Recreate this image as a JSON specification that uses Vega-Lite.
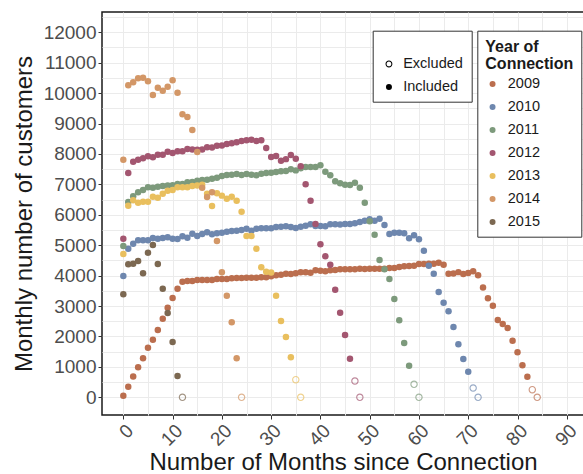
{
  "$schema": "https://vega.github.io/schema/vega-lite/v6.json",
  "width": 491,
  "height": 403,
  "autosize": {"type": "none"},
  "padding": {"left": 102, "top": 12, "right": -10, "bottom": 59},
  "background": "white",
  "config": {
    "font": "Liberation Sans",
    "view": {"stroke": "#1a1a1a", "strokeWidth": 1.5},
    "axis": {"grid": true, "gridColor": "#ebebeb", "gridWidth": 1, "domain": false, "tickColor": "#333333", "tickSize": 4, "labelColor": "#4d4d4d", "labelFontSize": 19, "titleFontSize": 24, "titleFontWeight": "normal", "titleColor": "#1a1a1a"}
  },
  "data": {"values": [
    {"yr":"2009","m":0,"n":50,"s":"Included"},{"yr":"2009","m":1,"n":350,"s":"Included"},{"yr":"2009","m":2,"n":680,"s":"Included"},{"yr":"2009","m":3,"n":985,"s":"Included"},{"yr":"2009","m":4,"n":1280,"s":"Included"},{"yr":"2009","m":5,"n":1630,"s":"Included"},{"yr":"2009","m":6,"n":1895,"s":"Included"},{"yr":"2009","m":7,"n":2210,"s":"Included"},{"yr":"2009","m":8,"n":2585,"s":"Included"},{"yr":"2009","m":9,"n":2945,"s":"Included"},{"yr":"2009","m":10,"n":3265,"s":"Included"},{"yr":"2009","m":11,"n":3570,"s":"Included"},{"yr":"2009","m":12,"n":3800,"s":"Included"},{"yr":"2009","m":13,"n":3823,"s":"Included"},{"yr":"2009","m":14,"n":3823,"s":"Included"},{"yr":"2009","m":15,"n":3856,"s":"Included"},{"yr":"2009","m":16,"n":3856,"s":"Included"},{"yr":"2009","m":17,"n":3856,"s":"Included"},{"yr":"2009","m":18,"n":3856,"s":"Included"},{"yr":"2009","m":19,"n":3889,"s":"Included"},{"yr":"2009","m":20,"n":3889,"s":"Included"},{"yr":"2009","m":21,"n":3889,"s":"Included"},{"yr":"2009","m":22,"n":3911,"s":"Included"},{"yr":"2009","m":23,"n":3922,"s":"Included"},{"yr":"2009","m":24,"n":3922,"s":"Included"},{"yr":"2009","m":25,"n":3933,"s":"Included"},{"yr":"2009","m":26,"n":3933,"s":"Included"},{"yr":"2009","m":27,"n":3933,"s":"Included"},{"yr":"2009","m":28,"n":3944,"s":"Included"},{"yr":"2009","m":29,"n":3944,"s":"Included"},{"yr":"2009","m":30,"n":3977,"s":"Included"},{"yr":"2009","m":31,"n":4010,"s":"Included"},{"yr":"2009","m":32,"n":4031,"s":"Included"},{"yr":"2009","m":33,"n":4063,"s":"Included"},{"yr":"2009","m":34,"n":4053,"s":"Included"},{"yr":"2009","m":35,"n":4076,"s":"Included"},{"yr":"2009","m":36,"n":4109,"s":"Included"},{"yr":"2009","m":37,"n":4109,"s":"Included"},{"yr":"2009","m":38,"n":4097,"s":"Included"},{"yr":"2009","m":39,"n":4175,"s":"Included"},{"yr":"2009","m":40,"n":4162,"s":"Included"},{"yr":"2009","m":41,"n":4142,"s":"Included"},{"yr":"2009","m":42,"n":4175,"s":"Included"},{"yr":"2009","m":43,"n":4185,"s":"Included"},{"yr":"2009","m":44,"n":4208,"s":"Included"},{"yr":"2009","m":45,"n":4208,"s":"Included"},{"yr":"2009","m":46,"n":4208,"s":"Included"},{"yr":"2009","m":47,"n":4208,"s":"Included"},{"yr":"2009","m":48,"n":4229,"s":"Included"},{"yr":"2009","m":49,"n":4220,"s":"Included"},{"yr":"2009","m":50,"n":4229,"s":"Included"},{"yr":"2009","m":51,"n":4229,"s":"Included"},{"yr":"2009","m":52,"n":4229,"s":"Included"},{"yr":"2009","m":53,"n":4229,"s":"Included"},{"yr":"2009","m":54,"n":4251,"s":"Included"},{"yr":"2009","m":55,"n":4251,"s":"Included"},{"yr":"2009","m":56,"n":4283,"s":"Included"},{"yr":"2009","m":57,"n":4306,"s":"Included"},{"yr":"2009","m":58,"n":4316,"s":"Included"},{"yr":"2009","m":59,"n":4327,"s":"Included"},{"yr":"2009","m":60,"n":4382,"s":"Included"},{"yr":"2009","m":61,"n":4382,"s":"Included"},{"yr":"2009","m":62,"n":4393,"s":"Included"},{"yr":"2009","m":63,"n":4393,"s":"Included"},{"yr":"2009","m":64,"n":4425,"s":"Included"},{"yr":"2009","m":65,"n":4360,"s":"Included"},{"yr":"2009","m":66,"n":4063,"s":"Included"},{"yr":"2009","m":67,"n":4070,"s":"Included"},{"yr":"2009","m":68,"n":4115,"s":"Included"},{"yr":"2009","m":69,"n":4053,"s":"Included"},{"yr":"2009","m":70,"n":4090,"s":"Included"},{"yr":"2009","m":71,"n":4145,"s":"Included"},{"yr":"2009","m":72,"n":4015,"s":"Included"},{"yr":"2009","m":73,"n":3610,"s":"Included"},{"yr":"2009","m":74,"n":3254,"s":"Included"},{"yr":"2009","m":75,"n":3011,"s":"Included"},{"yr":"2009","m":76,"n":2541,"s":"Included"},{"yr":"2009","m":77,"n":2410,"s":"Included"},{"yr":"2009","m":78,"n":2278,"s":"Included"},{"yr":"2009","m":79,"n":1861,"s":"Included"},{"yr":"2009","m":80,"n":1479,"s":"Included"},{"yr":"2009","m":81,"n":1052,"s":"Included"},{"yr":"2009","m":82,"n":677,"s":"Included"},{"yr":"2009","m":83,"n":250,"s":"Excluded"},{"yr":"2009","m":84,"n":0,"s":"Excluded"},
    {"yr":"2010","m":0,"n":3988,"s":"Included"},{"yr":"2010","m":1,"n":4886,"s":"Included"},{"yr":"2010","m":2,"n":5050,"s":"Included"},{"yr":"2010","m":3,"n":5160,"s":"Included"},{"yr":"2010","m":4,"n":5160,"s":"Included"},{"yr":"2010","m":5,"n":5160,"s":"Included"},{"yr":"2010","m":6,"n":5237,"s":"Included"},{"yr":"2010","m":7,"n":5215,"s":"Included"},{"yr":"2010","m":8,"n":5237,"s":"Included"},{"yr":"2010","m":9,"n":5259,"s":"Included"},{"yr":"2010","m":10,"n":5215,"s":"Included"},{"yr":"2010","m":11,"n":5204,"s":"Included"},{"yr":"2010","m":12,"n":5292,"s":"Included"},{"yr":"2010","m":13,"n":5248,"s":"Included"},{"yr":"2010","m":14,"n":5379,"s":"Included"},{"yr":"2010","m":15,"n":5303,"s":"Included"},{"yr":"2010","m":16,"n":5368,"s":"Included"},{"yr":"2010","m":17,"n":5423,"s":"Included"},{"yr":"2010","m":18,"n":5357,"s":"Included"},{"yr":"2010","m":19,"n":5390,"s":"Included"},{"yr":"2010","m":20,"n":5412,"s":"Included"},{"yr":"2010","m":21,"n":5445,"s":"Included"},{"yr":"2010","m":22,"n":5467,"s":"Included"},{"yr":"2010","m":23,"n":5478,"s":"Included"},{"yr":"2010","m":24,"n":5500,"s":"Included"},{"yr":"2010","m":25,"n":5544,"s":"Included"},{"yr":"2010","m":26,"n":5478,"s":"Included"},{"yr":"2010","m":27,"n":5544,"s":"Included"},{"yr":"2010","m":28,"n":5555,"s":"Included"},{"yr":"2010","m":29,"n":5555,"s":"Included"},{"yr":"2010","m":30,"n":5555,"s":"Included"},{"yr":"2010","m":31,"n":5598,"s":"Included"},{"yr":"2010","m":32,"n":5610,"s":"Included"},{"yr":"2010","m":33,"n":5620,"s":"Included"},{"yr":"2010","m":34,"n":5598,"s":"Included"},{"yr":"2010","m":35,"n":5566,"s":"Included"},{"yr":"2010","m":36,"n":5610,"s":"Included"},{"yr":"2010","m":37,"n":5643,"s":"Included"},{"yr":"2010","m":38,"n":5686,"s":"Included"},{"yr":"2010","m":39,"n":5632,"s":"Included"},{"yr":"2010","m":40,"n":5635,"s":"Included"},{"yr":"2010","m":41,"n":5620,"s":"Included"},{"yr":"2010","m":42,"n":5690,"s":"Included"},{"yr":"2010","m":43,"n":5686,"s":"Included"},{"yr":"2010","m":44,"n":5680,"s":"Included"},{"yr":"2010","m":45,"n":5697,"s":"Included"},{"yr":"2010","m":46,"n":5697,"s":"Included"},{"yr":"2010","m":47,"n":5720,"s":"Included"},{"yr":"2010","m":48,"n":5763,"s":"Included"},{"yr":"2010","m":49,"n":5806,"s":"Included"},{"yr":"2010","m":50,"n":5851,"s":"Included"},{"yr":"2010","m":51,"n":5806,"s":"Included"},{"yr":"2010","m":52,"n":5873,"s":"Included"},{"yr":"2010","m":53,"n":5664,"s":"Included"},{"yr":"2010","m":54,"n":5368,"s":"Included"},{"yr":"2010","m":55,"n":5412,"s":"Included"},{"yr":"2010","m":56,"n":5412,"s":"Included"},{"yr":"2010","m":57,"n":5390,"s":"Included"},{"yr":"2010","m":58,"n":5226,"s":"Included"},{"yr":"2010","m":59,"n":5325,"s":"Included"},{"yr":"2010","m":60,"n":5193,"s":"Included"},{"yr":"2010","m":61,"n":4820,"s":"Included"},{"yr":"2010","m":62,"n":4327,"s":"Included"},{"yr":"2010","m":63,"n":4063,"s":"Included"},{"yr":"2010","m":64,"n":3462,"s":"Included"},{"yr":"2010","m":65,"n":3110,"s":"Included"},{"yr":"2010","m":66,"n":2826,"s":"Included"},{"yr":"2010","m":67,"n":2311,"s":"Included"},{"yr":"2010","m":68,"n":1742,"s":"Included"},{"yr":"2010","m":69,"n":1259,"s":"Included"},{"yr":"2010","m":70,"n":842,"s":"Included"},{"yr":"2010","m":71,"n":306,"s":"Excluded"},{"yr":"2010","m":72,"n":0,"s":"Excluded"},
    {"yr":"2011","m":0,"n":4974,"s":"Included"},{"yr":"2011","m":1,"n":6420,"s":"Included"},{"yr":"2011","m":2,"n":6607,"s":"Included"},{"yr":"2011","m":3,"n":6739,"s":"Included"},{"yr":"2011","m":4,"n":6815,"s":"Included"},{"yr":"2011","m":5,"n":6903,"s":"Included"},{"yr":"2011","m":6,"n":6890,"s":"Included"},{"yr":"2011","m":7,"n":6923,"s":"Included"},{"yr":"2011","m":8,"n":6950,"s":"Included"},{"yr":"2011","m":9,"n":6960,"s":"Included"},{"yr":"2011","m":10,"n":6970,"s":"Included"},{"yr":"2011","m":11,"n":7012,"s":"Included"},{"yr":"2011","m":12,"n":7012,"s":"Included"},{"yr":"2011","m":13,"n":7067,"s":"Included"},{"yr":"2011","m":14,"n":7078,"s":"Included"},{"yr":"2011","m":15,"n":7122,"s":"Included"},{"yr":"2011","m":16,"n":7144,"s":"Included"},{"yr":"2011","m":17,"n":7155,"s":"Included"},{"yr":"2011","m":18,"n":7188,"s":"Included"},{"yr":"2011","m":19,"n":7220,"s":"Included"},{"yr":"2011","m":20,"n":7275,"s":"Included"},{"yr":"2011","m":21,"n":7310,"s":"Included"},{"yr":"2011","m":22,"n":7320,"s":"Included"},{"yr":"2011","m":23,"n":7340,"s":"Included"},{"yr":"2011","m":24,"n":7310,"s":"Included"},{"yr":"2011","m":25,"n":7340,"s":"Included"},{"yr":"2011","m":26,"n":7320,"s":"Included"},{"yr":"2011","m":27,"n":7300,"s":"Included"},{"yr":"2011","m":28,"n":7350,"s":"Included"},{"yr":"2011","m":29,"n":7373,"s":"Included"},{"yr":"2011","m":30,"n":7384,"s":"Included"},{"yr":"2011","m":31,"n":7406,"s":"Included"},{"yr":"2011","m":32,"n":7428,"s":"Included"},{"yr":"2011","m":33,"n":7440,"s":"Included"},{"yr":"2011","m":34,"n":7494,"s":"Included"},{"yr":"2011","m":35,"n":7460,"s":"Included"},{"yr":"2011","m":36,"n":7533,"s":"Included"},{"yr":"2011","m":37,"n":7575,"s":"Included"},{"yr":"2011","m":38,"n":7575,"s":"Included"},{"yr":"2011","m":39,"n":7575,"s":"Included"},{"yr":"2011","m":40,"n":7625,"s":"Included"},{"yr":"2011","m":41,"n":7417,"s":"Included"},{"yr":"2011","m":42,"n":7300,"s":"Included"},{"yr":"2011","m":43,"n":7100,"s":"Included"},{"yr":"2011","m":44,"n":7034,"s":"Included"},{"yr":"2011","m":45,"n":6990,"s":"Included"},{"yr":"2011","m":46,"n":6979,"s":"Included"},{"yr":"2011","m":47,"n":7056,"s":"Included"},{"yr":"2011","m":48,"n":6890,"s":"Included"},{"yr":"2011","m":49,"n":6397,"s":"Included"},{"yr":"2011","m":50,"n":5786,"s":"Included"},{"yr":"2011","m":51,"n":5345,"s":"Included"},{"yr":"2011","m":52,"n":4513,"s":"Included"},{"yr":"2011","m":53,"n":4208,"s":"Included"},{"yr":"2011","m":54,"n":3889,"s":"Included"},{"yr":"2011","m":55,"n":3231,"s":"Included"},{"yr":"2011","m":56,"n":2530,"s":"Included"},{"yr":"2011","m":57,"n":1785,"s":"Included"},{"yr":"2011","m":58,"n":1040,"s":"Included"},{"yr":"2011","m":59,"n":427,"s":"Excluded"},{"yr":"2011","m":60,"n":0,"s":"Excluded"},
    {"yr":"2012","m":0,"n":5214,"s":"Included"},{"yr":"2012","m":1,"n":7373,"s":"Included"},{"yr":"2012","m":2,"n":7746,"s":"Included"},{"yr":"2012","m":3,"n":7811,"s":"Included"},{"yr":"2012","m":4,"n":7856,"s":"Included"},{"yr":"2012","m":5,"n":7922,"s":"Included"},{"yr":"2012","m":6,"n":7890,"s":"Included"},{"yr":"2012","m":7,"n":7976,"s":"Included"},{"yr":"2012","m":8,"n":7976,"s":"Included"},{"yr":"2012","m":9,"n":8074,"s":"Included"},{"yr":"2012","m":10,"n":8031,"s":"Included"},{"yr":"2012","m":11,"n":8087,"s":"Included"},{"yr":"2012","m":12,"n":8087,"s":"Included"},{"yr":"2012","m":13,"n":8162,"s":"Included"},{"yr":"2012","m":14,"n":8150,"s":"Included"},{"yr":"2012","m":15,"n":8140,"s":"Included"},{"yr":"2012","m":16,"n":8150,"s":"Included"},{"yr":"2012","m":17,"n":8218,"s":"Included"},{"yr":"2012","m":18,"n":8210,"s":"Included"},{"yr":"2012","m":19,"n":8271,"s":"Included"},{"yr":"2012","m":20,"n":8280,"s":"Included"},{"yr":"2012","m":21,"n":8327,"s":"Included"},{"yr":"2012","m":22,"n":8350,"s":"Included"},{"yr":"2012","m":23,"n":8382,"s":"Included"},{"yr":"2012","m":24,"n":8425,"s":"Included"},{"yr":"2012","m":25,"n":8450,"s":"Included"},{"yr":"2012","m":26,"n":8468,"s":"Included"},{"yr":"2012","m":27,"n":8425,"s":"Included"},{"yr":"2012","m":28,"n":8448,"s":"Included"},{"yr":"2012","m":29,"n":8195,"s":"Included"},{"yr":"2012","m":30,"n":7900,"s":"Included"},{"yr":"2012","m":31,"n":7930,"s":"Included"},{"yr":"2012","m":32,"n":7778,"s":"Included"},{"yr":"2012","m":33,"n":7830,"s":"Included"},{"yr":"2012","m":34,"n":7965,"s":"Included"},{"yr":"2012","m":35,"n":7840,"s":"Included"},{"yr":"2012","m":36,"n":7594,"s":"Included"},{"yr":"2012","m":37,"n":7007,"s":"Included"},{"yr":"2012","m":38,"n":6463,"s":"Included"},{"yr":"2012","m":39,"n":5697,"s":"Included"},{"yr":"2012","m":40,"n":5029,"s":"Included"},{"yr":"2012","m":41,"n":4635,"s":"Included"},{"yr":"2012","m":42,"n":4359,"s":"Included"},{"yr":"2012","m":43,"n":3537,"s":"Included"},{"yr":"2012","m":44,"n":2781,"s":"Included"},{"yr":"2012","m":45,"n":2048,"s":"Included"},{"yr":"2012","m":46,"n":1269,"s":"Included"},{"yr":"2012","m":47,"n":536,"s":"Excluded"},{"yr":"2012","m":48,"n":0,"s":"Excluded"},
    {"yr":"2013","m":0,"n":4711,"s":"Included"},{"yr":"2013","m":1,"n":6300,"s":"Included"},{"yr":"2013","m":2,"n":6475,"s":"Included"},{"yr":"2013","m":3,"n":6398,"s":"Included"},{"yr":"2013","m":4,"n":6430,"s":"Included"},{"yr":"2013","m":5,"n":6430,"s":"Included"},{"yr":"2013","m":6,"n":6595,"s":"Included"},{"yr":"2013","m":7,"n":6562,"s":"Included"},{"yr":"2013","m":8,"n":6694,"s":"Included"},{"yr":"2013","m":9,"n":6792,"s":"Included"},{"yr":"2013","m":10,"n":6815,"s":"Included"},{"yr":"2013","m":11,"n":6903,"s":"Included"},{"yr":"2013","m":12,"n":6903,"s":"Included"},{"yr":"2013","m":13,"n":6903,"s":"Included"},{"yr":"2013","m":14,"n":6950,"s":"Included"},{"yr":"2013","m":15,"n":6960,"s":"Included"},{"yr":"2013","m":16,"n":6990,"s":"Included"},{"yr":"2013","m":17,"n":6690,"s":"Included"},{"yr":"2013","m":18,"n":6290,"s":"Included"},{"yr":"2013","m":19,"n":6710,"s":"Included"},{"yr":"2013","m":20,"n":6630,"s":"Included"},{"yr":"2013","m":21,"n":6530,"s":"Included"},{"yr":"2013","m":22,"n":6595,"s":"Included"},{"yr":"2013","m":23,"n":6463,"s":"Included"},{"yr":"2013","m":24,"n":6100,"s":"Included"},{"yr":"2013","m":25,"n":5303,"s":"Included"},{"yr":"2013","m":26,"n":5303,"s":"Included"},{"yr":"2013","m":27,"n":4886,"s":"Included"},{"yr":"2013","m":28,"n":4273,"s":"Included"},{"yr":"2013","m":29,"n":4130,"s":"Included"},{"yr":"2013","m":30,"n":4100,"s":"Included"},{"yr":"2013","m":31,"n":3340,"s":"Included"},{"yr":"2013","m":32,"n":2508,"s":"Included"},{"yr":"2013","m":33,"n":1982,"s":"Included"},{"yr":"2013","m":34,"n":1315,"s":"Included"},{"yr":"2013","m":35,"n":580,"s":"Excluded"},{"yr":"2013","m":36,"n":0,"s":"Excluded"},
    {"yr":"2014","m":0,"n":7811,"s":"Included"},{"yr":"2014","m":1,"n":10256,"s":"Included"},{"yr":"2014","m":2,"n":10355,"s":"Included"},{"yr":"2014","m":3,"n":10487,"s":"Included"},{"yr":"2014","m":4,"n":10507,"s":"Included"},{"yr":"2014","m":5,"n":10388,"s":"Included"},{"yr":"2014","m":6,"n":9937,"s":"Included"},{"yr":"2014","m":7,"n":10178,"s":"Included"},{"yr":"2014","m":8,"n":10080,"s":"Included"},{"yr":"2014","m":9,"n":10211,"s":"Included"},{"yr":"2014","m":10,"n":10421,"s":"Included"},{"yr":"2014","m":11,"n":10014,"s":"Included"},{"yr":"2014","m":12,"n":9303,"s":"Included"},{"yr":"2014","m":13,"n":9214,"s":"Included"},{"yr":"2014","m":14,"n":8787,"s":"Included"},{"yr":"2014","m":15,"n":8064,"s":"Included"},{"yr":"2014","m":16,"n":6890,"s":"Included"},{"yr":"2014","m":17,"n":6585,"s":"Included"},{"yr":"2014","m":18,"n":6740,"s":"Included"},{"yr":"2014","m":19,"n":5138,"s":"Included"},{"yr":"2014","m":20,"n":4108,"s":"Included"},{"yr":"2014","m":21,"n":3340,"s":"Included"},{"yr":"2014","m":22,"n":2465,"s":"Included"},{"yr":"2014","m":23,"n":1282,"s":"Included"},{"yr":"2014","m":24,"n":0,"s":"Excluded"},
    {"yr":"2015","m":0,"n":3386,"s":"Included"},{"yr":"2015","m":1,"n":4372,"s":"Included"},{"yr":"2015","m":2,"n":4394,"s":"Included"},{"yr":"2015","m":3,"n":4480,"s":"Included"},{"yr":"2015","m":4,"n":4076,"s":"Included"},{"yr":"2015","m":5,"n":4755,"s":"Included"},{"yr":"2015","m":6,"n":5007,"s":"Included"},{"yr":"2015","m":7,"n":4382,"s":"Included"},{"yr":"2015","m":8,"n":3571,"s":"Included"},{"yr":"2015","m":9,"n":2771,"s":"Included"},{"yr":"2015","m":10,"n":1818,"s":"Included"},{"yr":"2015","m":11,"n":700,"s":"Included"},{"yr":"2015","m":12,"n":0,"s":"Excluded"}
  ]},
  "mark": {"type": "point", "filled": true, "size": 42, "opacity": 1, "strokeWidth": 0},
  "encoding": {
    "x": {"field": "m", "type": "quantitative",
      "scale": {"domain": [-4.33, 95.32], "nice": false, "zero": false},
      "axis": {"values": [0,5,10,15,20,25,30,35,40,45,50,55,60,65,70,75,80,85,90,95], "format": "d",
        "labelExpr": "datum.value % 10 === 0 ? datum.label : ''",
        "labelAngle": -45, "labelAlign": "right", "labelBaseline": "top", "labelPadding": 2,
        "tickOpacity": {"condition": {"test": "datum.value % 10 === 0", "value": 1}, "value": 0},
        "title": "Number of Months since Connection", "titleX": 241, "titleY": 54.5, "titleAlign": "center", "titleBaseline": "alphabetic"}},
    "y": {"field": "n", "type": "quantitative",
      "scale": {"domain": [-582, 12667], "nice": false, "zero": false},
      "axis": {"values": [0,500,1000,1500,2000,2500,3000,3500,4000,4500,5000,5500,6000,6500,7000,7500,8000,8500,9000,9500,10000,10500,11000,11500,12000,12500], "format": "d",
        "labelExpr": "datum.value % 1000 === 0 ? datum.label : ''", "labelPadding": 2,
        "tickOpacity": {"condition": {"test": "datum.value % 1000 === 0", "value": 1}, "value": 0},
        "title": "Monthly number of customers", "titleX": -70.3, "titleY": 201.5, "titleAlign": "center", "titleBaseline": "alphabetic", "titleAngle": -90}},
    "fill": {"field": "yr", "type": "nominal",
      "scale": {"domain": ["2009","2010","2011","2012","2013","2014","2015"], "range": ["#BB6E4E","#6E87AE","#7D9A7C","#A35670","#E9BF5E","#D39767","#7C6851"]},
      "legend": {"orient": "none", "legendX": 375.3, "legendY": 18.7, "title": ["Year of", "Connection"], "titleFontSize": 16, "titleFontWeight": "bold", "titleColor": "#1a1a1a", "titleLineHeight": 17, "titlePadding": 5, "labelFontSize": 14.5, "labelColor": "#1a1a1a", "symbolType": "circle", "symbolSize": 36, "symbolOffset": 0, "labelOffset": 8, "rowPadding": 8, "padding": 8, "strokeColor": "#333333", "fillColor": "white"}},
    "shape": {"field": "s", "type": "nominal",
      "scale": {"domain": ["Excluded", "Included"], "range": ["M-1.15,0A1.15,1.15,0,1,0,1.15,0A1.15,1.15,0,1,0,-1.15,0ZM-0.8,0A0.8,0.8,0,1,1,0.8,0A0.8,0.8,0,1,1,-0.8,0Z", "circle"]},
      "legend": {"orient": "none", "legendX": 270.7, "legendY": 18.7, "title": " ", "titleFontSize": 12, "titlePadding": 6, "labelFontSize": 14.5, "labelColor": "#1a1a1a", "symbolSize": 36, "symbolFillColor": "black", "symbolStrokeColor": "black", "symbolStrokeWidth": 0, "symbolOffset": 1, "labelOffset": 7, "rowPadding": 8, "padding": 8, "strokeColor": "#333333", "fillColor": "white"}},
    "fillOpacity": {"field": "s", "type": "nominal", "scale": {"type": "ordinal", "domain": ["Excluded", "Included"], "range": [0.7, 1]}, "legend": null}
  }
}
